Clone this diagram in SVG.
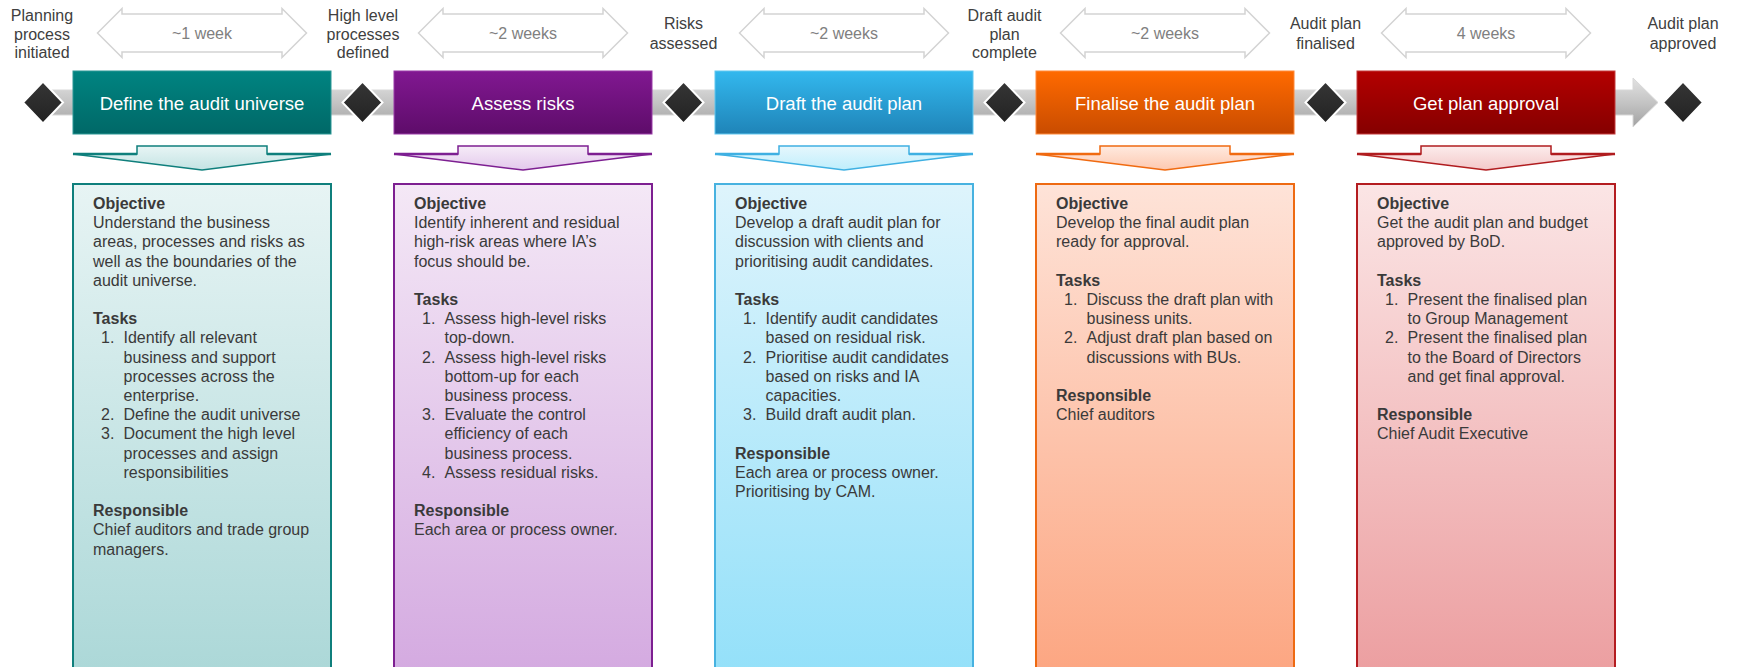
<svg xmlns="http://www.w3.org/2000/svg" xmlns:xlink="http://www.w3.org/1999/xlink" width="1740" height="667" viewBox="0 0 1740 667">
<defs>
<style>
.ms{font-family:"Liberation Sans",Arial,sans-serif;font-size:16px;fill:#404040;text-anchor:middle}
.dur{font-family:"Liberation Sans",Arial,sans-serif;font-size:16px;fill:#808080;text-anchor:middle}
.hdr{font-family:"Liberation Sans",Arial,sans-serif;font-size:18.5px;fill:#ffffff;text-anchor:middle}
.body{font-family:"Liberation Sans",Arial,sans-serif;font-size:16px;fill:#3a3a3a}
.b{font-weight:bold}
.dbl{fill:#ffffff;stroke:#d3d3d3;stroke-width:1.5}
.dia{fill:url(#diaG);stroke:#ffffff;stroke-width:2}
.edge{fill:none;stroke-width:2.5}
</style>
<linearGradient id="barG" x1="0" y1="0" x2="0" y2="1"><stop offset="0" stop-color="#e2e2e2"/><stop offset="0.5" stop-color="#c4c4c4"/><stop offset="1" stop-color="#a2a2a2"/></linearGradient>
<linearGradient id="diaG" x1="0" y1="0" x2="0" y2="1"><stop offset="0" stop-color="#363636"/><stop offset="1" stop-color="#222222"/></linearGradient>
<linearGradient id="h1" x1="0" y1="0" x2="0" y2="1"><stop offset="0" stop-color="#008481"/><stop offset="1" stop-color="#006867"/></linearGradient>
<linearGradient id="h2" x1="0" y1="0" x2="0" y2="1"><stop offset="0" stop-color="#811891"/><stop offset="1" stop-color="#5e0c6a"/></linearGradient>
<linearGradient id="h3" x1="0" y1="0" x2="0" y2="1"><stop offset="0" stop-color="#33b8ee"/><stop offset="1" stop-color="#1f84b8"/></linearGradient>
<linearGradient id="h4" x1="0" y1="0" x2="0" y2="1"><stop offset="0" stop-color="#ff6a00"/><stop offset="1" stop-color="#c94c00"/></linearGradient>
<linearGradient id="h5" x1="0" y1="0" x2="0" y2="1"><stop offset="0" stop-color="#b30000"/><stop offset="1" stop-color="#850000"/></linearGradient>
<linearGradient id="c1" x1="0" y1="0" x2="0" y2="1"><stop offset="0" stop-color="#e7f4f4"/><stop offset="1" stop-color="#a8d6d6"/></linearGradient>
<linearGradient id="c2" x1="0" y1="0" x2="0" y2="1"><stop offset="0" stop-color="#f4e8f6"/><stop offset="1" stop-color="#d2a6df"/></linearGradient>
<linearGradient id="c3" x1="0" y1="0" x2="0" y2="1"><stop offset="0" stop-color="#def4fc"/><stop offset="1" stop-color="#8fdff9"/></linearGradient>
<linearGradient id="c4" x1="0" y1="0" x2="0" y2="1"><stop offset="0" stop-color="#fee3d8"/><stop offset="1" stop-color="#fca27c"/></linearGradient>
<linearGradient id="c5" x1="0" y1="0" x2="0" y2="1"><stop offset="0" stop-color="#fbe5e5"/><stop offset="1" stop-color="#eb9a9c"/></linearGradient>
<linearGradient id="v1" x1="0" y1="0" x2="0" y2="1"><stop offset="0" stop-color="#e8f5f5"/><stop offset="1" stop-color="#c3e3e3"/></linearGradient>
<linearGradient id="v2" x1="0" y1="0" x2="0" y2="1"><stop offset="0" stop-color="#f6ecf8"/><stop offset="1" stop-color="#e3c8ec"/></linearGradient>
<linearGradient id="v3" x1="0" y1="0" x2="0" y2="1"><stop offset="0" stop-color="#e6f7fd"/><stop offset="1" stop-color="#bfeefc"/></linearGradient>
<linearGradient id="v4" x1="0" y1="0" x2="0" y2="1"><stop offset="0" stop-color="#ffeadf"/><stop offset="1" stop-color="#fdc8b0"/></linearGradient>
<linearGradient id="v5" x1="0" y1="0" x2="0" y2="1"><stop offset="0" stop-color="#fcecec"/><stop offset="1" stop-color="#f3c8c9"/></linearGradient>
<path id="dblShape" d="M-104.5,33 L-80,8.5 L-80,14 L80,14 L80,8.5 L104.5,33 L80,57.5 L80,52 L-80,52 L-80,57.5 Z"/>
<path id="diaShape" d="M0,-21 L20,0 L0,21 L-20,0 Z"/>
<path id="chevShape" d="M64,146 H194 V154 H258 L129,170 L0,154 H64 Z"/>
<path id="chevEdge" d="M0,154 H64 M194,154 H258"/>
</defs>

<rect width="1740" height="667" fill="#ffffff"/>

<g id="connectors">
  <path id="timeline-bar" d="M43,90 H1633 V78 L1658,102.5 L1633,127 V115 H43 Z" fill="url(#barG)" stroke="#d8d8d8" stroke-width="1"/>
</g>

<g id="durations">
  <g id="dur-1"><use href="#dblShape" x="202" class="dbl"/><text class="dur" x="202" y="39">~1 week</text></g>
  <g id="dur-2"><use href="#dblShape" x="523" class="dbl"/><text class="dur" x="523" y="39">~2 weeks</text></g>
  <g id="dur-3"><use href="#dblShape" x="844" class="dbl"/><text class="dur" x="844" y="39">~2 weeks</text></g>
  <g id="dur-4"><use href="#dblShape" x="1165" class="dbl"/><text class="dur" x="1165" y="39">~2 weeks</text></g>
  <g id="dur-5"><use href="#dblShape" x="1486" class="dbl"/><text class="dur" x="1486" y="39">4 weeks</text></g>
</g>

<g id="milestones">
  <g id="ms-1"><use href="#diaShape" x="43" y="102.5" class="dia"/>
    <text class="ms" x="42" y="21">Planning</text><text class="ms" x="42" y="40">process</text><text class="ms" x="42" y="58">initiated</text></g>
  <g id="ms-2"><use href="#diaShape" x="362.5" y="102.5" class="dia"/>
    <text class="ms" x="363" y="21">High level</text><text class="ms" x="363" y="40">processes</text><text class="ms" x="363" y="58">defined</text></g>
  <g id="ms-3"><use href="#diaShape" x="683.5" y="102.5" class="dia"/>
    <text class="ms" x="683.5" y="29">Risks</text><text class="ms" x="683.5" y="49">assessed</text></g>
  <g id="ms-4"><use href="#diaShape" x="1004.5" y="102.5" class="dia"/>
    <text class="ms" x="1004.5" y="21">Draft audit</text><text class="ms" x="1004.5" y="40">plan</text><text class="ms" x="1004.5" y="58">complete</text></g>
  <g id="ms-5"><use href="#diaShape" x="1325.5" y="102.5" class="dia"/>
    <text class="ms" x="1325.5" y="29">Audit plan</text><text class="ms" x="1325.5" y="49">finalised</text></g>
  <g id="ms-6"><use href="#diaShape" x="1683" y="102.5" class="dia"/>
    <text class="ms" x="1683" y="29">Audit plan</text><text class="ms" x="1683" y="49">approved</text></g>
</g>

<g id="phase-1">
  <rect x="73" y="71" width="258" height="63" fill="url(#h1)" stroke="#2b9896" stroke-width="1"/>
  <text class="hdr" x="202" y="109.5">Define the audit universe</text>
  <use href="#chevShape" x="73" fill="url(#v1)" stroke="#0f7f7c" stroke-width="1.5"/>
  <use href="#chevEdge" x="73" class="edge" stroke="#0f7f7c"/>
  <rect x="73" y="184" width="258" height="520" fill="url(#c1)" stroke="#0f7f7c" stroke-width="2"/>
  <g class="body">
    <text x="93" y="209" class="b">Objective</text>
    <text x="93" y="228.2">Understand the business</text>
    <text x="93" y="247.4">areas, processes and risks as</text>
    <text x="93" y="266.6">well as the boundaries of the</text>
    <text x="93" y="285.8">audit universe.</text>
    <text x="93" y="324.2" class="b">Tasks</text>
    <text x="101" y="343.4">1.</text><text x="123.5" y="343.4">Identify all relevant</text>
    <text x="123.5" y="362.6">business and support</text>
    <text x="123.5" y="381.8">processes across the</text>
    <text x="123.5" y="401">enterprise.</text>
    <text x="101" y="420.2">2.</text><text x="123.5" y="420.2">Define the audit universe</text>
    <text x="101" y="439.4">3.</text><text x="123.5" y="439.4">Document the high level</text>
    <text x="123.5" y="458.6">processes and assign</text>
    <text x="123.5" y="477.8">responsibilities</text>
    <text x="93" y="516.2" class="b">Responsible</text>
    <text x="93" y="535.4">Chief auditors and trade group</text>
    <text x="93" y="554.6">managers.</text>
  </g>
</g>

<g id="phase-2">
  <rect x="394" y="71" width="258" height="63" fill="url(#h2)" stroke="#9a3aa8" stroke-width="1"/>
  <text class="hdr" x="523" y="109.5">Assess risks</text>
  <use href="#chevShape" x="394" fill="url(#v2)" stroke="#7d1f91" stroke-width="1.5"/>
  <use href="#chevEdge" x="394" class="edge" stroke="#7d1f91"/>
  <rect x="394" y="184" width="258" height="520" fill="url(#c2)" stroke="#7d1f91" stroke-width="2"/>
  <g class="body">
    <text x="414" y="209" class="b">Objective</text>
    <text x="414" y="228.2">Identify inherent and residual</text>
    <text x="414" y="247.4">high-risk areas where IA’s</text>
    <text x="414" y="266.6">focus should be.</text>
    <text x="414" y="305" class="b">Tasks</text>
    <text x="422" y="324.2">1.</text><text x="444.5" y="324.2">Assess high-level risks</text>
    <text x="444.5" y="343.4">top-down.</text>
    <text x="422" y="362.6">2.</text><text x="444.5" y="362.6">Assess high-level risks</text>
    <text x="444.5" y="381.8">bottom-up for each</text>
    <text x="444.5" y="401">business process.</text>
    <text x="422" y="420.2">3.</text><text x="444.5" y="420.2">Evaluate the control</text>
    <text x="444.5" y="439.4">efficiency of each</text>
    <text x="444.5" y="458.6">business process.</text>
    <text x="422" y="477.8">4.</text><text x="444.5" y="477.8">Assess residual risks.</text>
    <text x="414" y="516.2" class="b">Responsible</text>
    <text x="414" y="535.4">Each area or process owner.</text>
  </g>
</g>

<g id="phase-3">
  <rect x="715" y="71" width="258" height="63" fill="url(#h3)" stroke="#62c8f0" stroke-width="1"/>
  <text class="hdr" x="844" y="109.5">Draft the audit plan</text>
  <use href="#chevShape" x="715" fill="url(#v3)" stroke="#3fb0e2" stroke-width="1.5"/>
  <use href="#chevEdge" x="715" class="edge" stroke="#3fb0e2"/>
  <rect x="715" y="184" width="258" height="520" fill="url(#c3)" stroke="#47b2e0" stroke-width="2"/>
  <g class="body">
    <text x="735" y="209" class="b">Objective</text>
    <text x="735" y="228.2">Develop a draft audit plan for</text>
    <text x="735" y="247.4">discussion with clients and</text>
    <text x="735" y="266.6">prioritising audit candidates.</text>
    <text x="735" y="305" class="b">Tasks</text>
    <text x="743" y="324.2">1.</text><text x="765.5" y="324.2">Identify audit candidates</text>
    <text x="765.5" y="343.4">based on residual risk.</text>
    <text x="743" y="362.6">2.</text><text x="765.5" y="362.6">Prioritise audit candidates</text>
    <text x="765.5" y="381.8">based on risks and IA</text>
    <text x="765.5" y="401">capacities.</text>
    <text x="743" y="420.2">3.</text><text x="765.5" y="420.2">Build draft audit plan.</text>
    <text x="735" y="458.6" class="b">Responsible</text>
    <text x="735" y="477.8">Each area or process owner.</text>
    <text x="735" y="497">Prioritising by CAM.</text>
  </g>
</g>

<g id="phase-4">
  <rect x="1036" y="71" width="258" height="63" fill="url(#h4)" stroke="#ff8a3a" stroke-width="1"/>
  <text class="hdr" x="1165" y="109.5">Finalise the audit plan</text>
  <use href="#chevShape" x="1036" fill="url(#v4)" stroke="#f06a10" stroke-width="1.5"/>
  <use href="#chevEdge" x="1036" class="edge" stroke="#f06a10"/>
  <rect x="1036" y="184" width="258" height="520" fill="url(#c4)" stroke="#ee6a12" stroke-width="2"/>
  <g class="body">
    <text x="1056" y="209" class="b">Objective</text>
    <text x="1056" y="228.2">Develop the final audit plan</text>
    <text x="1056" y="247.4">ready for approval.</text>
    <text x="1056" y="285.8" class="b">Tasks</text>
    <text x="1064" y="305">1.</text><text x="1086.5" y="305">Discuss the draft plan with</text>
    <text x="1086.5" y="324.2">business units.</text>
    <text x="1064" y="343.4">2.</text><text x="1086.5" y="343.4">Adjust draft plan based on</text>
    <text x="1086.5" y="362.6">discussions with BUs.</text>
    <text x="1056" y="401" class="b">Responsible</text>
    <text x="1056" y="420.2">Chief auditors</text>
  </g>
</g>

<g id="phase-5">
  <rect x="1357" y="71" width="258" height="63" fill="url(#h5)" stroke="#c43a3a" stroke-width="1"/>
  <text class="hdr" x="1486" y="109.5">Get plan approval</text>
  <use href="#chevShape" x="1357" fill="url(#v5)" stroke="#b01c1f" stroke-width="1.5"/>
  <use href="#chevEdge" x="1357" class="edge" stroke="#b01c1f"/>
  <rect x="1357" y="184" width="258" height="520" fill="url(#c5)" stroke="#b41c20" stroke-width="2"/>
  <g class="body">
    <text x="1377" y="209" class="b">Objective</text>
    <text x="1377" y="228.2">Get the audit plan and budget</text>
    <text x="1377" y="247.4">approved by BoD.</text>
    <text x="1377" y="285.8" class="b">Tasks</text>
    <text x="1385" y="305">1.</text><text x="1407.5" y="305">Present the finalised plan</text>
    <text x="1407.5" y="324.2">to Group Management</text>
    <text x="1385" y="343.4">2.</text><text x="1407.5" y="343.4">Present the finalised plan</text>
    <text x="1407.5" y="362.6">to the Board of Directors</text>
    <text x="1407.5" y="381.8">and get final approval.</text>
    <text x="1377" y="420.2" class="b">Responsible</text>
    <text x="1377" y="439.4">Chief Audit Executive</text>
  </g>
</g>
</svg>
